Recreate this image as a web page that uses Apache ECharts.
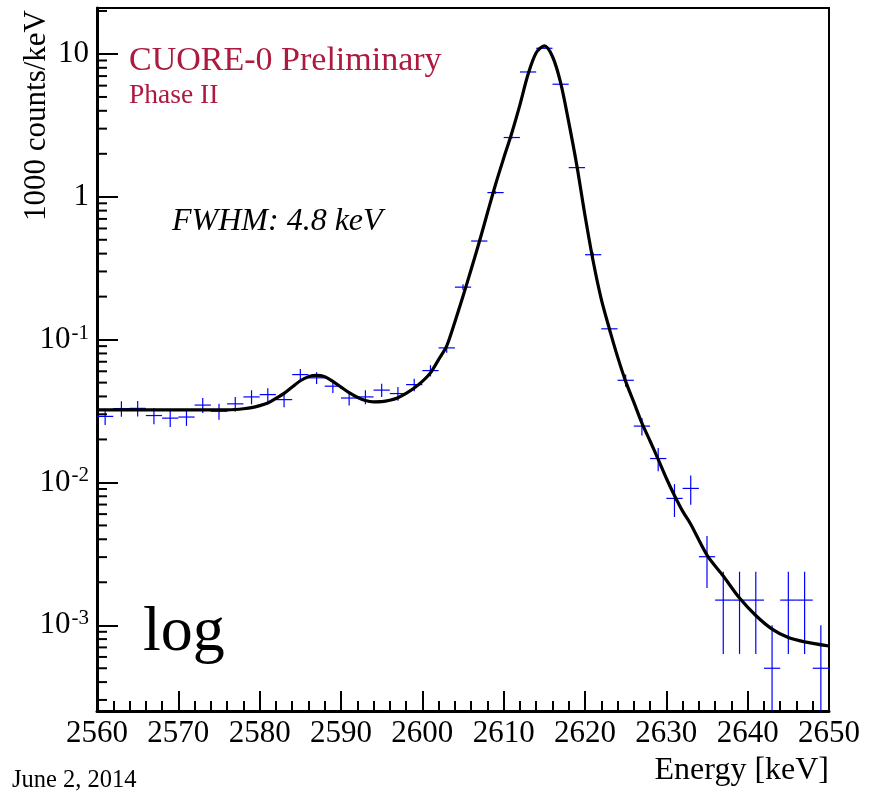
<!DOCTYPE html>
<html><head><meta charset="utf-8">
<script src="https://cdn.jsdelivr.net/npm/echarts@6/dist/echarts.min.js"></script>
<style>html,body{margin:0;padding:0;background:#fff}#c{width:873px;height:796px}</style>
</head><body><div id="c"></div>
<script>
// ---- data ----
const energy = [2561,2563,2565,2567,2569,2571,2573,2575,2577,2579,2581,2583,2585,2587,2589,2591,2593,2595,2597,2599,2601,2603,2605,2607,2609,2611,2613,2615,2617,2619,2621,2623,2625,2627,2629,2631,2633,2635,2637,2639,2641,2643,2645,2647,2649];
const rate = [0.0290,0.0329,0.0330,0.0294,0.0282,0.0287,0.0348,0.0315,0.0355,0.0397,0.0412,0.0380,0.0569,0.0540,0.0472,0.0390,0.0397,0.0443,0.0419,0.0484,0.0607,0.0875,0.233,0.490,1.07,2.60,7.48,10.96,6.14,1.60,0.393,0.119,0.0519,0.0248,0.0147,0.00773,0.00908,0.00302,0.0015,0.0015,0.0015,0.0005,0.0015,0.0015,0.0005];
const rateErr = [0.0038,0.0041,0.0041,0.0038,0.0038,0.0038,0.0042,0.0040,0.0042,0.0045,0.0045,0.0044,0.0053,0.0052,0.0049,0.0044,0.0045,0.0047,0.0046,0.0049,0.0055,0.0066,0.0108,0.0157,0.0231,0.036,0.061,0.074,0.055,0.028,0.014,0.0077,0.0051,0.0035,0.0027,0.0020,0.0021,0.0012,0.00087,0.00087,0.00087,0.0005,0.00087,0.00087,0.0005];
const binHalfWidth = 1;
const fitEnergy = [2560,2564,2568,2572,2576,2577,2578,2579,2580,2581,2582,2583,2584,2585,2586,2587,2588,2589,2590,2591,2592,2593,2594,2595,2596,2597,2598,2599,2600,2601,2602,2603,2604,2605,2606,2607,2608,2609,2610,2611,2612,2613,2614,2615,2616,2617,2618,2619,2620,2621,2622,2623,2624,2625,2626,2627,2628,2629,2630,2631,2632,2633,2635,2637,2639,2641,2643,2645,2647,2650];
const fitValue = [0.0322,0.0322,0.0322,0.0322,0.0322,0.0324,0.0328,0.0334,0.0345,0.0360,0.0388,0.0420,0.0465,0.0515,0.0550,0.0562,0.0550,0.0510,0.0465,0.0425,0.0395,0.0375,0.0367,0.0368,0.0376,0.0392,0.0420,0.0458,0.0510,0.0585,0.0725,0.0905,0.133,0.201,0.310,0.482,0.77,1.22,1.86,2.80,4.40,7.2,10.2,11.4,9.6,6.3,3.33,1.65,0.74,0.355,0.192,0.119,0.076,0.051,0.0365,0.026,0.0195,0.0145,0.0107,0.0081,0.0063,0.0051,0.0031,0.00221,0.00155,0.00117,0.00094,0.00082,0.000765,0.000716];
const xRange = [2560, 2650];
const yRange = [0.000251, 20.98];
const yMajorTicks = [0.001, 0.01, 0.1, 1, 10];
const yMinorMantissa = [2,3,4,5,6,7,8,9];
const yMinorDecades = [0.0001,0.001,0.01,0.1,1,10];

const FONT = '"Liberation Serif", "Times New Roman", serif';
const BLUE = '#0000ff';

const chart = echarts.init(document.getElementById('c'), null, {renderer:'canvas'});

const minorVals = [];
yMinorDecades.forEach(d => yMinorMantissa.forEach(m => {
  const v = m * d;
  if (v > yRange[0] && v < yRange[1]) minorVals.push([xRange[0], v]);
}));

function isMajor(v){
  return yMajorTicks.some(t => Math.abs(Math.log10(v) - Math.log10(t)) < 1e-6);
}

const option = {
  backgroundColor: '#fff',
  animation: false,
  grid: {left: 97, right: 44, top: 8, bottom: 85, show: true, borderColor: '#000', borderWidth: 2, backgroundColor: 'transparent'},
  xAxis: {
    type: 'value', min: xRange[0], max: xRange[1], interval: 10,
    axisLine: {show: true, onZero: false, lineStyle: {color: '#000', width: 3}},
    axisTick: {show: true, inside: true, length: 20, lineStyle: {color: '#000', width: 2}},
    minorTick: {show: true, splitNumber: 5, length: 10, lineStyle: {color: '#000', width: 2}},
    splitLine: {show: false},
    axisLabel: {color: '#000', fontFamily: FONT, fontSize: 31, margin: 7, showMinLabel: true, showMaxLabel: true,
      formatter: v => String(Math.round(v))}
  },
  yAxis: {
    type: 'log', logBase: 10, min: yRange[0], max: yRange[1],
    axisLine: {show: true, lineStyle: {color: '#000', width: 3}},
    axisTick: {show: true, inside: true, length: 21, lineStyle: {color: '#000', width: 2}},
    splitLine: {show: false},
    axisLabel: {
      margin: 8, showMinLabel: false, showMaxLabel: false,
      formatter: function(v){
        if (!isMajor(v)) return '';
        const p = Math.round(Math.log10(v));
        if (p === 0) return '{n|1}';
        if (p === 1) return '{n|10}';
        return '{n|10}{s|' + p + '}';
      },
      rich: {
        n: {fontFamily: FONT, fontSize: 31, color: '#000', lineHeight: 34},
        s: {fontFamily: FONT, fontSize: 21, color: '#000', verticalAlign: 'top', lineHeight: 34, padding: [0,0,14,1]}
      }
    }
  },
  series: [
    {
      type: 'custom', name: 'minorTicks', silent: true, z: 5,
      data: minorVals,
      renderItem: function(params, api){
        const p = api.coord([api.value(0), api.value(1)]);
        return {type: 'line', shape: {x1: p[0], y1: p[1], x2: p[0] + 10, y2: p[1]}, style: {stroke: '#000', lineWidth: 2}};
      }
    },
    {
      type: 'custom', name: 'data', z: 3, clip: true,
      data: energy.map((e, i) => [e, rate[i], rateErr[i]]),
      encode: {x: 0, y: 1},
      renderItem: function(params, api){
        const x = api.value(0), y = api.value(1), e = api.value(2);
        const c = api.coord([x, y]);
        const xl = api.coord([x - binHalfWidth, y])[0];
        const xr = api.coord([x + binHalfWidth, y])[0];
        const lo = Math.max(y - e, yRange[0]);
        const yt = api.coord([x, Math.min(y + e, yRange[1])])[1];
        const yb = api.coord([x, lo])[1];
        return {type: 'group', children: [
          {type: 'line', shape: {x1: xl, y1: c[1], x2: xr, y2: c[1]}, style: {stroke: BLUE, lineWidth: 1.2}},
          {type: 'line', shape: {x1: c[0], y1: yt, x2: c[0], y2: yb}, style: {stroke: BLUE, lineWidth: 1.2}}
        ]};
      }
    },
    {
      type: 'line', name: 'fit', z: 4,
      data: fitEnergy.map((e, i) => [e, fitValue[i]]),
      showSymbol: false, symbol: 'none', smooth: 0.3,
      lineStyle: {color: '#000', width: 3.2},
      silent: true
    }
  ],
  graphic: [
    {type: 'text', x: 37, y: 10, rotation: Math.PI/2, style: {text: '1000 counts/keV', fontFamily: FONT, fontSize: 31, fill: '#000', align: 'right', verticalAlign: 'middle'}},
    {type: 'text', x: 129, y: 61, style: {text: 'CUORE-0 Preliminary', fontFamily: FONT, fontSize: 34, fill: '#ad1a40', align: 'left', verticalAlign: 'middle'}},
    {type: 'text', x: 129, y: 96, style: {text: 'Phase II', fontFamily: FONT, fontSize: 27.5, fill: '#ad1a40', align: 'left', verticalAlign: 'middle'}},
    {type: 'text', x: 172, y: 222, style: {text: 'FWHM: 4.8 keV', fontFamily: FONT, fontStyle: 'italic', fontSize: 32, fill: '#000', align: 'left', verticalAlign: 'middle'}},
    {type: 'text', x: 143, y: 633, style: {text: 'log', fontFamily: FONT, fontSize: 64, fill: '#000', align: 'left', verticalAlign: 'middle'}},
    {type: 'text', x: 829, y: 771, style: {text: 'Energy [keV]', fontFamily: FONT, fontSize: 32, fill: '#000', align: 'right', verticalAlign: 'middle'}},
    {type: 'text', x: 12, y: 781, style: {text: 'June 2, 2014', fontFamily: FONT, fontSize: 24.5, fill: '#000', align: 'left', verticalAlign: 'middle'}}
  ]
};
chart.setOption(option);
</script>
</body></html>
